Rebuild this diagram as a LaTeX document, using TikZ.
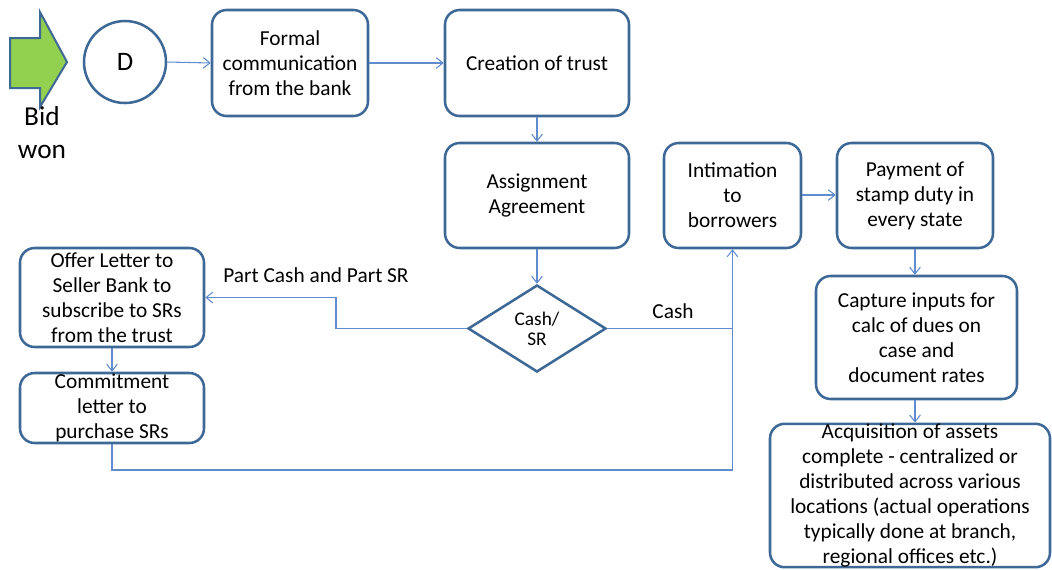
\documentclass[tikz,border=0pt]{standalone}
\usepackage{fontspec}
\setmainfont{Carlito}
\usetikzlibrary{shapes.geometric,arrows.meta}
\definecolor{boxline}{RGB}{62,104,150}
\definecolor{wire}{RGB}{96,140,205}
\definecolor{arrowgreen}{RGB}{146,208,80}
\tikzset{
  stepbox/.style={draw=boxline, line width=1.9pt, rounded corners=11pt, fill=white,
    inner sep=0pt, align=center, font=\fontsize{16}{18.75}\selectfont},
  wirepath/.style={draw=wire, line width=0.8pt},
  flow/.style={wirepath, -{Straight Barb[length=5pt,width=8pt]}},
  lbl/.style={font=\fontsize{16}{18.75}\selectfont, inner sep=0pt}
}
% box from its corners given in pixel units
\newcommand{\pbox}[6]{%
  \node[stepbox, minimum width={(#4-#2)*0.75pt}, minimum height={(#5-#3)*0.75pt}]
    (#1) at ({(#2+#4)/2},{(#3+#5)/2}) {#6};}
\begin{document}
\begin{tikzpicture}[x=0.75pt,y=-0.75pt]
\useasboundingbox (0,0) rectangle (1052,569);

% start arrow
\draw[boxline, line width=1.5pt, fill=arrowgreen, line join=miter]
  (10,38) -- (40,38) -- (40,12) -- (67,62) -- (40,107) -- (40,88) -- (10,88) -- cycle;
\node[font=\fontsize{20.5}{24.75}\selectfont, align=center, inner sep=0pt] (bid) at (42,133) {Bid\\won};

\node[circle, draw=boxline, line width=1.9pt, minimum size=61.5pt, inner sep=0pt,
  font=\fontsize{20}{22}\selectfont] (d) at (125,62) {D};

\pbox{formal}{212}{10}{368}{116}{Formal\\communication\\from the bank}
\pbox{trust}{445}{10}{629}{116}{Creation of trust}
\pbox{assign}{445}{143}{629}{248}{Assignment\\Agreement}
\pbox{intim}{664}{143}{801}{248}{Intimation\\to\\borrowers}
\pbox{stamp}{837}{143}{993}{248}{Payment of\\stamp duty in\\every state}
\pbox{capture}{816}{276}{1017}{399}{Capture inputs for\\calc of dues on\\case and\\document rates}
\pbox{acq}{770}{425}{1050}{566}{Acquisition of assets\\complete - centralized or\\distributed across various\\locations (actual operations\\typically done at branch,\\regional offices etc.)}
\pbox{offer}{20}{248}{204}{347}{Offer Letter to\\Seller Bank to\\subscribe to SRs\\from the trust}
\pbox{commit}{20}{373}{204}{443}{Commitment\\letter to\\purchase SRs}

\node[diamond, draw=boxline, line width=1.9pt, fill=white, aspect=1.59,
  minimum width=103.5pt, minimum height=65.25pt, inner sep=0pt, align=center,
  font=\fontsize{14.5}{15}\selectfont] (dia) at (537,328.5) {Cash/\\SR};

% junction points of the connectors
\coordinate (jleft) at (336,297.5);
\coordinate (jbottom) at (732.5,470);

\draw[flow] (d.east) -- (formal.west);
\draw[flow] (formal.west -| formal.east) -- (trust.west);
\draw[flow] (trust.south) -- (assign.north);
\draw[flow] (assign.south) -- (dia.north);
\draw[flow] (dia.west) -| (jleft) -- (offer.east);
\draw[flow] (offer.south) -- (commit.north);
\draw[wirepath] (dia.east) -- (dia.east -| intim.south);
\draw[flow] (commit.south) |- (jbottom) -- (intim.south);
\draw[flow] (intim.east |- 0,195) -- (stamp.west |- 0,195);
\draw[flow] (stamp.south -| 915,0) -- (capture.north -| 915,0);
\draw[flow] (capture.south -| 915,0) -- (acq.north -| 915,0);

\node[lbl] (lpart) at (316,275) {Part Cash and Part SR};
\node[lbl] (lcash) at (673,311) {Cash};
\end{tikzpicture}
\end{document}
